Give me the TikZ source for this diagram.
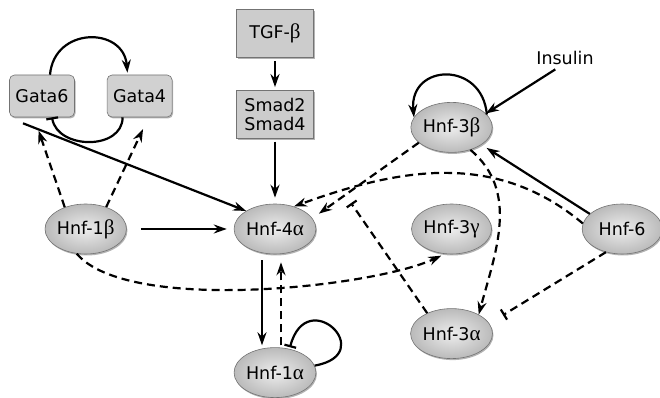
\documentclass[tikz,border=0pt]{standalone}
\usepackage{fontspec}
\setmainfont{DejaVu Sans}
\newfontfamily\grk[Scale=1.2]{Liberation Serif}
\usetikzlibrary{arrows.meta, positioning, shapes.geometric, shadows}

\newcommand{\Galpha}{{\grk α}}
\newcommand{\Gbeta}{{\grk β}}
\newcommand{\Ggamma}{{\grk γ}}

\tikzset{
    factor/.style={ellipse, draw=black!55, line width=0.6pt, minimum width=80pt, minimum height=50pt,
        inner sep=0pt, inner color=black!7, outer color=black!27,
        drop shadow={shadow xshift=1pt, shadow yshift=-1.5pt, opacity=0.6}},
    gene/.style={rectangle, rounded corners=5pt, draw=black!55, line width=0.6pt, fill=black!18,
        minimum width=65pt, minimum height=42pt, inner sep=2pt,
        drop shadow={shadow xshift=1pt, shadow yshift=-1.5pt, opacity=0.6}},
    signal/.style={rectangle, draw=black!55, line width=0.6pt, fill=black!20, align=center,
        minimum width=77pt, minimum height=48pt, inner sep=2pt,
        drop shadow={shadow xshift=1pt, shadow yshift=-1.5pt, opacity=0.6}},
    act/.style={-{Stealth[length=13pt,width=9pt]}, line width=2.2pt},
    dashact/.style={act, dash pattern=on 8pt off 5pt},
    inhib/.style={-{Bar[width=12pt,line width=2.2pt]}, line width=2.2pt},
    dashinhib/.style={inhib, dash pattern=on 8pt off 5pt}
}

\begin{document}
\begin{tikzpicture}[x=1pt, y=1pt, font=\fontsize{17.5}{19}\selectfont]
    \useasboundingbox (0,0) rectangle (660,398);

    \node[factor] (Hnf 4a) at (275,169) {Hnf-4\Galpha};
    \node[factor, left=107pt of Hnf 4a]  (Hnf 1b) {Hnf-1\Gbeta};
    \node[factor, below=93pt of Hnf 4a]  (Hnf 1a) {Hnf-1\Galpha};
    \node[factor, right=95pt of Hnf 4a]  (Hnf 3g) {Hnf-3\Ggamma};
    \node[factor, right=90pt of Hnf 3g]  (Hnf 6)  {Hnf-6};
    \node[factor, above=51pt of Hnf 3g]  (Hnf 3b) {Hnf-3\Gbeta};
    \node[factor, below=54pt of Hnf 3g]  (Hnf 3a) {Hnf-3\Galpha};

    \node[signal, above=65pt of Hnf 4a] (Smad) {Smad2\\Smad4};
    \node[signal, above=32pt of Smad]   (TGF)  {TGF-\Gbeta};

    \node[gene] (Gata6) at (42,302) {Gata6};
    \node[gene, right=32pt of Gata6] (Gata4) {Gata4};

    \node (Insulin) at (565,340) {Insulin};

    % Gata loop
    \draw[act, shorten >=2pt] ([xshift=8pt]Gata6.north) to[out=85,in=95,looseness=1.6] ([xshift=-12pt]Gata4.north);
    \draw[inhib] ([xshift=-17pt]Gata4.south) to[out=-90,in=-80,looseness=1.2] ([xshift=10pt]Gata6.south);

    % TGF-beta pathway
    \draw[act, shorten <=3pt, shorten >=3pt] (TGF) -- (Smad);
    \draw[act, shorten <=3pt, shorten >=6pt] (Smad) -- (Hnf 4a);

    % Hnf-1beta targets
    \draw[act, shorten <=14pt, shorten >=7pt] (Hnf 1b) -- (Hnf 4a);
    \draw[act] ([shift={(-19,-6)}]Gata6.south) -- (Hnf 4a.148);
    \draw[dashact, shorten >=14pt] (Hnf 1b.134) -- ([xshift=-8pt]Gata6.south);
    \draw[dashact, shorten >=13pt] (Hnf 1b.47) -- ([xshift=9pt]Gata4.south);
    \draw[dashact, shorten >=4pt] (Hnf 1b.250) to[out=-50,in=205,looseness=0.55] (Hnf 3g.255);

    % Hnf-4alpha / Hnf-1alpha
    \draw[act, shorten <=6pt, shorten >=2pt] ([xshift=-13pt]Hnf 4a.south) -- ([xshift=-13pt]Hnf 1a.north);
    \draw[dashact, shorten <=2pt, shorten >=8pt] ([xshift=6pt]Hnf 1a.north) -- ([xshift=6pt]Hnf 4a.south);
    \draw[inhib] (Hnf 1a.10) to[out=10,in=75,looseness=5.5] ([xshift=15pt]Hnf 1a.north);

    % Hnf-3beta
    \draw[act] (Hnf 3b.20) to[out=95,in=95,looseness=1.9] (Hnf 3b.165);
    \draw[act, shorten <=2pt] ([xshift=-8pt]Insulin.south) -- (Hnf 3b.22);
    \draw[act, shorten >=6pt] (Hnf 6.155) -- (Hnf 3b.-30);
    \draw[dashact, shorten >=8pt] (Hnf 3b.205) -- (Hnf 4a.16) coordinate[pos=0.69] (Cross);
    \draw[dashact] (Hnf 3b.-50) to[out=-40,in=75] (Hnf 3a.35);

    % Hnf-6 and Hnf-3alpha
    \draw[dashact] (Hnf 6.172) to[out=140,in=20] (Hnf 4a.50);
    \draw[dashinhib, shorten >=16pt] (Hnf 6.235) -- (Hnf 3a.15);
    \draw[dashinhib, shorten >=10pt] (Hnf 3a.140) -- (Cross);
\end{tikzpicture}
\end{document}
